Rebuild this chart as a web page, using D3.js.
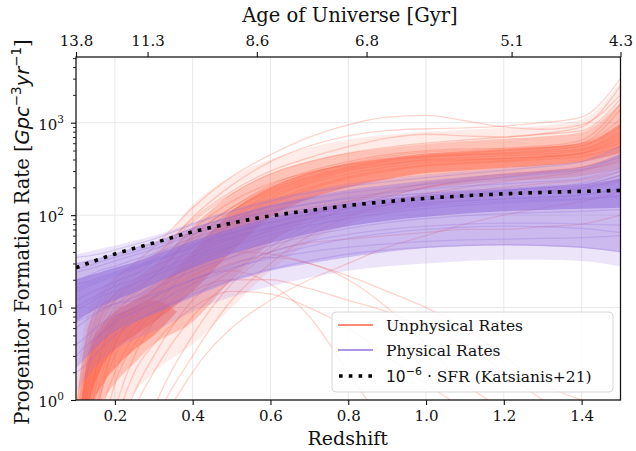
<!DOCTYPE html>
<html>
<head>
<meta charset="utf-8">
<script src="https://cdn.jsdelivr.net/npm/d3@7"></script>
<style>
  body { margin: 0; background: #fff; }
</style>
</head>
<body>
<div id="chart"></div>
<script>
// redshift grid shared by every band and curve
const redshiftGrid = [0.1, 0.13, 0.16, 0.2, 0.25, 0.3, 0.4, 0.5, 0.6, 0.7, 0.8, 0.9, 1.0, 1.1, 1.2, 1.3, 1.4, 1.5];

// unphysical (red) spread
const redOuterLo = [0.05, 0.1, 0.3, 0.6, 1.2, 2, 4, 10, 25, 50, 80, 105, 125, 145, 160, 170, 185, 220];
const redLow     = [0.05, 0.3, 0.8, 1.5, 2.5, 4, 7, 20, 50, 90, 130, 165, 195, 215, 235, 245, 265, 320];
const redMidLo   = [0.1, 0.8, 2, 3.5, 5, 7, 15, 40, 95, 150, 200, 245, 285, 305, 325, 345, 375, 470];
const redMidHi   = [0.3, 3, 6, 9, 12, 16, 40, 110, 200, 290, 360, 415, 465, 490, 515, 545, 595, 980];
const redHigh    = [0.8, 6, 10, 14, 20, 28, 75, 170, 280, 380, 470, 530, 590, 630, 670, 710, 790, 1650];
const redOuterHi = [1.5, 9, 15, 22, 30, 40, 130, 260, 400, 540, 660, 740, 800, 840, 880, 930, 1080, 2700];

// dense low-redshift red core
const redCoreRedshift = [0.1, 0.12, 0.14, 0.17, 0.2, 0.25, 0.3, 0.36];
const redCoreLo = [0.1, 0.3, 0.8, 1.5, 2.2, 3.5, 5, 9];
const redCoreHi = [0.3, 1.5, 3.5, 6, 8, 10, 12, 9];

// physical (purple) spread
const purpleOuterLo = [1.2, 1.8, 2.5, 3.5, 4.5, 5.5, 9, 13, 17, 21, 25, 28, 30, 32, 33, 33, 32, 28];
const purpleLow     = [2.2, 3, 4, 5.5, 7, 8.5, 13, 19, 25, 30, 35, 40, 44, 46, 47, 46, 44, 40];
const purpleMidLo   = [7, 8.5, 10, 12, 14.5, 18, 27, 38, 50, 63, 76, 87, 96, 104, 110, 114, 117, 120];
const purpleMidHi   = [20, 22, 24, 27, 31, 37, 53, 72, 94, 115, 135, 152, 166, 178, 190, 200, 212, 250];
const purpleHigh    = [30, 32, 34, 38, 44, 51, 73, 98, 128, 158, 188, 212, 236, 258, 280, 302, 330, 460];
const purpleOuterHi = [38, 40, 43, 47, 53, 60, 84, 115, 150, 185, 220, 250, 275, 300, 325, 350, 385, 560];

// a few single unphysical curves
const unphysicalCurves = [
  [0.3, 2, 6, 12, 18, 25, 55, 110, 180, 250, 320, 380, 420, 450, 470, 500, 560, 900],
  [0.1, 0.8, 3, 8, 14, 20, 45, 90, 160, 230, 300, 350, 390, 400, 410, 430, 470, 650],
  [0.5, 3, 8, 14, 20, 28, 70, 140, 220, 290, 350, 400, 430, 450, 460, 480, 520, 800],
  [0.05, 0.4, 1.5, 5, 10, 16, 40, 80, 140, 200, 260, 310, 350, 370, 390, 420, 460, 600],
  [0.2, 1.5, 5, 10, 15, 22, 60, 120, 200, 280, 360, 430, 480, 500, 520, 540, 600, 1100],
  [0.1, 0.6, 2.5, 7, 12, 18, 50, 110, 190, 260, 330, 390, 440, 470, 500, 530, 600, 1400],
  [0.05, 0.2, 1, 3, 6, 10, 30, 70, 130, 190, 250, 300, 340, 360, 380, 400, 430, 550],
  [0.4, 2.5, 7, 12, 16, 22, 60, 120, 210, 300, 380, 450, 500, 520, 530, 560, 650, 1600],
  [0.1, 0.5, 2, 6, 11, 17, 45, 95, 170, 240, 310, 360, 400, 420, 440, 460, 500, 750],
  [0.05, 0.3, 1.2, 4, 8, 13, 35, 80, 150, 220, 280, 330, 370, 390, 410, 430, 470, 700],
  [0.6, 4, 10, 18, 26, 36, 90, 180, 300, 420, 550, 680, 750, 720, 700, 760, 900, 2500],
  [0.3, 2, 7, 14, 22, 32, 85, 170, 280, 380, 470, 540, 600, 650, 700, 750, 820, 1800],
  [0.05, 0.05, 0.2, 0.8, 3, 7, 18, 30, 35, 30, 20, 10, 4, 1.5, 0.8, 0.5, 0.4, 0.3],
  [0.05, 0.05, 0.05, 0.3, 1.2, 3, 12, 25, 40, 50, 55, 60, 65, 70, 70, 75, 80, 100],
  [0.05, 0.1, 0.6, 2, 5, 9, 20, 25, 18, 8, 2, 0.5, 0.2, 0.1, 0.1, 0.1, 0.1, 0.1],
  [0.05, 0.05, 0.05, 0.05, 0.2, 0.8, 5, 18, 40, 70, 100, 130, 160, 180, 200, 220, 240, 300],
  [0.05, 0.05, 0.1, 0.5, 2, 4, 10, 15, 14, 10, 6, 3, 1.5, 0.8, 0.5, 0.3, 0.2, 0.2],
  [0.05, 0.05, 0.05, 0.05, 0.05, 0.3, 2, 6, 12, 20, 30, 45, 60, 80, 100, 120, 140, 180],
  [0.05, 0.2, 1, 4, 9, 15, 30, 40, 38, 30, 22, 15, 10, 6, 3, 1.5, 1, 0.8],
  [0.05, 0.05, 0.05, 0.2, 0.8, 2, 8, 20, 45, 80, 120, 160, 200, 230, 260, 290, 330, 450],
  [0.05, 0.05, 0.3, 1.5, 4, 7, 15, 20, 20, 16, 12, 9, 6, 4, 2, 1, 0.5, 0.3],
  [0.05, 0.05, 0.05, 0.05, 0.1, 0.5, 3, 12, 30, 60, 95, 130, 170, 200, 230, 260, 300, 400],
  [0.2, 1.2, 4, 9, 13, 17, 28, 45, 70, 100, 140, 180, 220, 250, 280, 300, 330, 420],
  [0.1, 0.8, 3, 7, 10, 13, 22, 35, 55, 85, 120, 160, 200, 240, 270, 290, 310, 380],
  [0.8, 5, 12, 20, 30, 45, 120, 260, 450, 700, 950, 1150, 1200, 1050, 900, 850, 950, 2000],
  [0.5, 3.5, 9, 16, 24, 34, 95, 210, 380, 560, 720, 820, 860, 880, 920, 1000, 1150, 3000]
];

// a few single physical curves
const physicalCurves = [
  [12, 14, 16, 19, 23, 28, 40, 55, 72, 90, 106, 120, 132, 142, 150, 157, 165, 190],
  [20, 22, 25, 28, 33, 38, 56, 76, 98, 120, 140, 158, 172, 184, 194, 204, 215, 270],
  [6, 7.5, 9, 11, 13, 16, 25, 35, 47, 60, 72, 83, 92, 99, 104, 107, 110, 115],
  [30, 32, 34, 38, 44, 50, 72, 96, 124, 150, 175, 195, 215, 235, 255, 280, 310, 430],
  [3, 4, 5, 7, 9, 11, 18, 26, 36, 46, 56, 64, 70, 74, 76, 75, 72, 65],
  [15, 17, 19, 22, 26, 31, 46, 63, 82, 102, 120, 135, 148, 160, 170, 182, 196, 240],
  [9, 11, 13, 15, 18, 22, 33, 46, 61, 77, 92, 106, 118, 128, 136, 142, 148, 160],
  [24, 26, 28, 32, 37, 43, 62, 84, 108, 132, 155, 175, 192, 206, 218, 230, 248, 320],
  [4, 5, 6.5, 8, 10, 13, 20, 29, 40, 52, 62, 70, 76, 80, 82, 82, 80, 78],
  [18, 19, 21, 24, 28, 33, 48, 65, 84, 102, 116, 128, 137, 144, 150, 156, 165, 195],
  [2, 2.5, 3.5, 5, 7, 9, 14, 20, 26, 32, 38, 42, 45, 47, 48, 47, 45, 40],
  [35, 36, 38, 42, 48, 55, 80, 110, 142, 175, 205, 230, 255, 280, 305, 335, 380, 560],
  [10, 12, 14, 17, 20, 24, 36, 50, 67, 84, 100, 114, 126, 135, 142, 147, 152, 165],
  [26, 28, 31, 35, 40, 46, 66, 88, 112, 133, 150, 162, 172, 180, 188, 198, 212, 270],
  [7, 8, 9.5, 11, 12, 14, 20, 27, 34, 40, 45, 49, 52, 54, 55, 56, 57, 60],
  [16, 18, 20, 23, 27, 32, 44, 58, 74, 92, 110, 128, 146, 164, 182, 200, 222, 300]
];

// 1e-6 * SFR (Katsianis+21)
const sfrRedshift = [0.1, 0.2, 0.3, 0.4, 0.5, 0.6, 0.7, 0.8, 0.9, 1.0, 1.1, 1.2, 1.3, 1.4, 1.5];
const sfrRate = [27, 38, 50, 66, 82, 98, 112, 127, 140, 152, 162, 170, 176, 181, 185];

const xTicks = [0.2, 0.4, 0.6, 0.8, 1.0, 1.2, 1.4];
const yDecades = [1, 10, 100, 1000];
const topTickRedshift = [0.1, 0.284, 0.565, 0.847, 1.22, 1.5];
const topTickLabels = ["13.8", "11.3", "8.6", "6.8", "5.1", "4.3"];

const legendLabels = ["Unphysical Rates", "Physical Rates"];

const W = 636, H = 451;
const pL = 76, pR = 620.5, pT = 57, pB = 400;
const serif = "'DejaVu Serif', serif";
const sans = "'DejaVu Sans', sans-serif";
const red = "tomato", purple = "mediumpurple";

const svg = d3.select("#chart").append("svg")
  .attr("width", W)
  .attr("height", H);

const x = d3.scaleLinear().domain([0.1, 1.5]).range([pL, pR]);
const y = d3.scaleLog().domain([1, 5140]).range([pB, pT]);

svg.append("clipPath").attr("id", "plotclip")
  .append("rect")
  .attr("x", pL).attr("y", pT)
  .attr("width", pR - pL).attr("height", pB - pT);

// grid
const grid = svg.append("g");
grid.selectAll(".vgrid").data(xTicks).enter().append("line")
  .attr("x1", d => x(d)).attr("x2", d => x(d))
  .attr("y1", pT).attr("y2", pB)
  .attr("stroke", "#e8e8e8").attr("stroke-width", 1);
grid.selectAll(".hgrid").data(yDecades).enter().append("line")
  .attr("x1", pL).attr("x2", pR)
  .attr("y1", d => y(d)).attr("y2", d => y(d))
  .attr("stroke", "#e8e8e8").attr("stroke-width", 1);

const plot = svg.append("g").attr("clip-path", "url(#plotclip)");

const line = d3.line()
  .x((d, i) => x(redshiftGrid[i]))
  .y(d => y(Math.max(d, 0.01)))
  .curve(d3.curveMonotoneX);

function bandOn(zs) {
  return d3.area()
    .x((d, i) => x(zs[i]))
    .y0(d => y(Math.max(d[0], 0.01)))
    .y1(d => y(Math.max(d[1], 0.01)))
    .curve(d3.curveMonotoneX);
}
const band = bandOn(redshiftGrid);

function drawBand(lo, hi, color, op, gen = band) {
  plot.append("path").datum(d3.zip(lo, hi))
    .attr("d", gen).attr("fill", color).attr("fill-opacity", op);
}

function drawCurves(curves, color, op) {
  plot.selectAll(null).data(curves).enter().append("path")
    .attr("d", line)
    .attr("fill", "none")
    .attr("stroke", color)
    .attr("stroke-width", 1.3)
    .attr("stroke-opacity", op);
}

drawBand(redOuterLo, redOuterHi, red, 0.13);
drawBand(redLow, redHigh, red, 0.3);
drawBand(redMidLo, redMidHi, red, 0.5);
drawBand(redCoreLo, redCoreHi, red, 0.5, bandOn(redCoreRedshift));
drawCurves(unphysicalCurves, red, 0.28);
drawBand(purpleOuterLo, purpleOuterHi, purple, 0.18);
drawBand(purpleLow, purpleHigh, purple, 0.36);
drawBand(purpleMidLo, purpleMidHi, purple, 0.58);
drawCurves(physicalCurves, purple, 0.28);

// SFR dotted line
const sfrLine = d3.line()
  .x((d, i) => x(sfrRedshift[i]))
  .y(d => y(d))
  .curve(d3.curveMonotoneX);
plot.append("path").datum(sfrRate)
  .attr("d", sfrLine)
  .attr("fill", "none")
  .attr("stroke", "#000")
  .attr("stroke-width", 3.6)
  .attr("stroke-dasharray", "3.6,6.2");

// frame
svg.append("rect")
  .attr("x", pL).attr("y", pT)
  .attr("width", pR - pL).attr("height", pB - pT)
  .attr("fill", "none").attr("stroke", "#111").attr("stroke-width", 1.25);

// bottom axis
const xAxis = svg.append("g")
  .attr("transform", `translate(0,${pB})`)
  .call(d3.axisBottom(x).tickValues(xTicks).tickFormat(d3.format(".1f")).tickSize(5).tickPadding(5).tickSizeOuter(0));
xAxis.select(".domain").remove();
xAxis.selectAll("line").attr("stroke", "#111").attr("stroke-width", 1.1);
xAxis.selectAll("text").attr("font-family", serif).attr("font-size", 15).attr("fill", "#111");

// top axis (age of universe)
const topScale = d3.scaleLinear().domain([0.1, 1.5]).range([pL, pR]);
const topAxis = svg.append("g")
  .attr("transform", `translate(0,${pT})`)
  .call(d3.axisTop(topScale).tickValues(topTickRedshift)
    .tickFormat((d, i) => topTickLabels[i]).tickSize(5).tickPadding(6).tickSizeOuter(0));
topAxis.select(".domain").remove();
topAxis.selectAll("line").attr("stroke", "#111").attr("stroke-width", 1.1);
topAxis.selectAll("text").attr("font-family", serif).attr("font-size", 15).attr("fill", "#111");

// y axis ticks
const yMinor = [];
yDecades.forEach(dec => {
  for (let k = 2; k <= 9; k++) if (dec * k <= 5140) yMinor.push(dec * k);
});
const yAxisMinor = svg.append("g")
  .attr("transform", `translate(${pL},0)`)
  .call(d3.axisLeft(y).tickValues(yMinor).tickFormat("").tickSize(3).tickSizeOuter(0));
yAxisMinor.select(".domain").remove();
yAxisMinor.selectAll("line").attr("stroke", "#111").attr("stroke-width", 0.9);

const yAxisMajor = svg.append("g")
  .attr("transform", `translate(${pL},0)`)
  .call(d3.axisLeft(y).tickValues(yDecades).tickFormat("").tickSize(5).tickSizeOuter(0));
yAxisMajor.select(".domain").remove();
yAxisMajor.selectAll("line").attr("stroke", "#111").attr("stroke-width", 1.1);

const yLabels = svg.append("g");
yDecades.forEach(dec => {
  const t = yLabels.append("text")
    .attr("x", 64).attr("y", y(dec) + 7.3)
    .attr("text-anchor", "end")
    .attr("font-family", serif).attr("font-size", 15).attr("fill", "#111");
  t.append("tspan").text("10");
  t.append("tspan").attr("dy", -7).attr("font-size", 10.5).text(String(Math.round(Math.log10(dec))));
});

// axis titles
svg.append("text")
  .attr("x", (pL + pR) / 2 - 0.5).attr("y", 445)
  .attr("text-anchor", "middle")
  .attr("font-family", serif).attr("font-size", 19).attr("fill", "#111")
  .text("Redshift");

svg.append("text")
  .attr("x", 350).attr("y", 22)
  .attr("text-anchor", "middle")
  .attr("font-family", serif).attr("font-size", 19.5).attr("fill", "#111")
  .text("Age of Universe [Gyr]");

const yTitle = svg.append("text")
  .attr("transform", "translate(29,232) rotate(-90)")
  .attr("text-anchor", "middle")
  .attr("font-family", serif).attr("font-size", 19.5).attr("fill", "#111");
yTitle.append("tspan").text("Progenitor Formation Rate [");
yTitle.append("tspan").attr("font-family", sans).attr("font-style", "italic").text("Gpc");
yTitle.append("tspan").attr("font-family", sans).attr("font-size", 13.5).attr("dy", -8).text("\u22123");
yTitle.append("tspan").attr("font-family", sans).attr("font-style", "italic").attr("dy", 8).text("yr");
yTitle.append("tspan").attr("font-family", sans).attr("font-size", 13.5).attr("dy", -8).text("\u22121");
yTitle.append("tspan").attr("dy", 8).text("]");

// legend
const legend = svg.append("g");
legend.append("rect")
  .attr("x", 332).attr("y", 312).attr("width", 281).attr("height", 80)
  .attr("rx", 4)
  .attr("fill", "#fff").attr("fill-opacity", 0.85)
  .attr("stroke", "#d6d6d6").attr("stroke-width", 1);

const legendRows = [325, 350, 376];
[red, purple].forEach((c, i) => {
  legend.append("line")
    .attr("x1", 338).attr("x2", 373)
    .attr("y1", legendRows[i]).attr("y2", legendRows[i])
    .attr("stroke", c).attr("stroke-width", 1.5);
  legend.append("text")
    .attr("x", 386).attr("y", legendRows[i] + 5.5)
    .attr("font-family", serif).attr("font-size", 15.5).attr("fill", "#111")
    .text(legendLabels[i]);
});
legend.append("line")
  .attr("x1", 339).attr("x2", 373)
  .attr("y1", legendRows[2]).attr("y2", legendRows[2])
  .attr("stroke", "#000").attr("stroke-width", 3.6)
  .attr("stroke-dasharray", "3.6,6.2");
const sfrText = legend.append("text")
  .attr("x", 386).attr("y", legendRows[2] + 5.5)
  .attr("font-family", serif).attr("font-size", 15.5).attr("fill", "#111");
sfrText.append("tspan").attr("font-family", sans).text("10");
sfrText.append("tspan").attr("font-family", sans).attr("font-size", 11).attr("dy", -7).text("\u22126");
sfrText.append("tspan").attr("font-family", sans).attr("dy", 7).text("\u00a0\u00b7");
sfrText.append("tspan").text("\u00a0SFR (Katsianis+21)");
</script>
</body>
</html>
